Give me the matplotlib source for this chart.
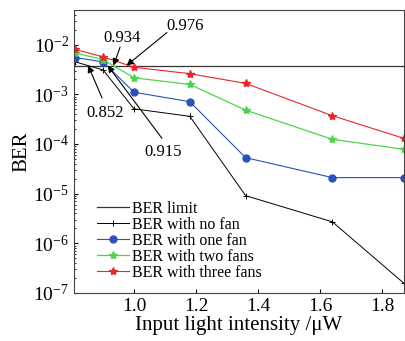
import numpy as np
import matplotlib
matplotlib.use('Agg')
import matplotlib.pyplot as plt

plt.rcParams['font.family'] = ['Liberation Serif', 'DejaVu Serif']
plt.rcParams['mathtext.fontset'] = 'stix'

intensity = [0.81, 0.90, 1.00, 1.18, 1.36, 1.64, 1.87]
ber_limit = 3.8e-3
ber_no_fan = [4.5e-3, 3.1e-3, 5.1e-4, 3.6e-4, 9.1e-6, 2.7e-6, 1.58e-7]
ber_one_fan = [5.5e-3, 4.5e-3, 1.1e-3, 7.1e-4, 5.3e-5, 2.1e-5, 2.1e-5]
ber_two_fans = [6.8e-3, 5.0e-3, 2.15e-3, 1.58e-3, 4.8e-4, 1.24e-4, 7.8e-5]
ber_three_fans = [8.0e-3, 5.7e-3, 3.5e-3, 2.6e-3, 1.66e-3, 3.7e-4, 1.3e-4]

# crossing points with the BER limit, label positions and arrow tails
crossings = [0.852, 0.915, 0.934, 0.976]
label_pos = [(0.846, 4.2e-4), (1.035, 6.9e-5), (0.900, 1.35e-2), (1.106, 2.35e-2)]
tail_pos = [(0.897, 8.4e-4), (1.09, 1.3e-4), (0.955, 8.9e-3), (1.106, 1.75e-2)]

fig = plt.figure(figsize=(4.06, 3.41), dpi=100)
ax = fig.add_axes([0.182, 0.141, 0.813, 0.830])

ax.axhline(ber_limit, color='#333333', lw=0.9, label='BER limit')
ax.plot(intensity, ber_no_fan, color='black', lw=0.7, marker='+', ms=5, mew=0.7,
        label='BER with no fan')
ax.plot(intensity, ber_one_fan, color='#2a52be', lw=0.8, marker='o', ms=5,
        label='BER with one fan')
ax.plot(intensity, ber_two_fans, color='#4cd44c', lw=0.9, marker='*', ms=6,
        label='BER with two fans')
ax.plot(intensity, ber_three_fans, color='#e8262a', lw=0.8, marker='*', ms=6,
        label='BER with three fans')

for xv, (tx, ty), (ax_, ay_) in zip(crossings, label_pos, tail_pos):
    ax.text(tx, ty, '%.3f' % xv, fontsize=12, ha='left', va='center')
    ax.annotate('', xy=(xv, ber_limit), xytext=(ax_, ay_),
                arrowprops=dict(arrowstyle='-|>', color='black', lw=0.8,
                                mutation_scale=10, shrinkA=0, shrinkB=0))

ax.set_yscale('log')
ax.set_xlim(0.806, 1.871)
ax.set_ylim(1e-7, 10 ** -1.3)
ax.set_xticks([1.0, 1.2, 1.4, 1.6, 1.8])
ax.set_yticks([1e-7, 1e-6, 1e-5, 1e-4, 1e-3, 1e-2])
ax.tick_params(axis='both', which='both', direction='in', labelsize=14)
ax.tick_params(which='major', length=3)
ax.tick_params(which='minor', length=1.5)
for s in ax.spines.values():
    s.set_color('#444444')

ax.set_xlabel('Input light intensity /μW', fontsize=15, labelpad=1)
ax.set_ylabel('BER', fontsize=15, labelpad=1)

ax.legend(loc='lower left', bbox_to_anchor=(0.05, 0.02), frameon=False,
          fontsize=11.5, handlelength=2.0, handletextpad=0.2, labelspacing=0.0,
          borderaxespad=0)

fig.savefig('out.png', dpi=100)
